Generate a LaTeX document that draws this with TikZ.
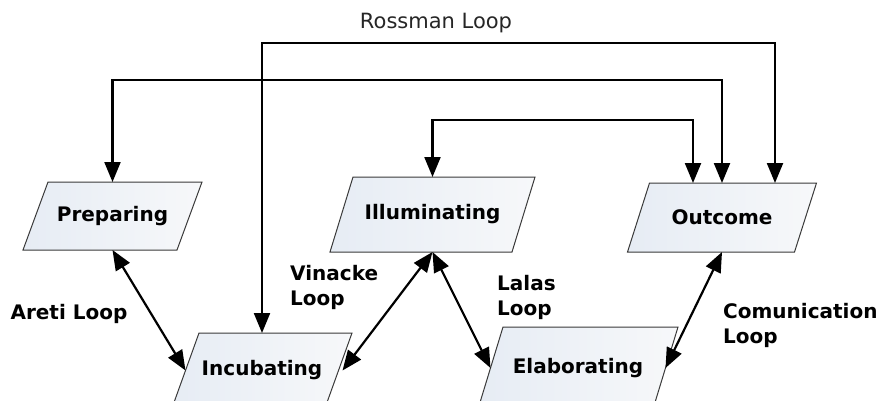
\documentclass[tikz,border=0pt]{standalone}
\usepackage{fontspec}
\setmainfont{DejaVu Sans}
\usetikzlibrary{arrows.meta}
\definecolor{boxline}{HTML}{3A3A3A}
\definecolor{boxfillA}{HTML}{E6ECF4}
\definecolor{boxfillB}{HTML}{F7F8FA}
\tikzset{
  stagebox/.style={draw=boxline, line width=1pt, left color=boxfillA, right color=boxfillB},
  stagetext/.style={font=\fontsize{20}{24}\selectfont\bfseries, inner sep=0pt, text=black},
  loopline/.style={line width=2.2pt, black},
  twoway/.style={loopline, {Triangle[length=20pt,width=16pt]}-{Triangle[length=20pt,width=16pt]}},
  looplabel/.style={font=\fontsize{20}{25}\selectfont\bfseries, align=left, inner sep=0pt, text=black},
  toplabel/.style={font=\fontsize{21}{25}\selectfont, inner sep=0pt, text={black!85}}
}
% name, cx, cy, top width, height, slant offset, text
\newcommand\stageshape[7]{%
  \pgfmathsetmacro\sbLeft{#2-#4/2}\pgfmathsetmacro\sbRight{#2+#4/2}%
  \pgfmathsetmacro\sbTop{#3-#5/2}\pgfmathsetmacro\sbBot{#3+#5/2}%
  \draw[stagebox] (\sbLeft+#6,\sbTop) -- (\sbRight+#6,\sbTop) -- (\sbRight-#6,\sbBot) -- (\sbLeft-#6,\sbBot) -- cycle;
  \node[stagetext] (#1) at (#2,#3) {#7};
  \coordinate (#1-n) at (#2,\sbTop);
  \coordinate (#1-s) at (#2,\sbBot);
  \coordinate (#1-w) at (\sbLeft,#3);
  \coordinate (#1-e) at (\sbRight,#3);
}
\begin{document}
\begin{tikzpicture}[x=1pt,y=-1pt]
\useasboundingbox (0,0) rectangle (883,401);
\clip (0,0) rectangle (883,401);
\stageshape{prep}{112.5}{216}{154}{68}{12.5}{Preparing}
\stageshape{ill}{432.5}{214.5}{182}{75}{11.5}{Illuminating}
\stageshape{out}{722}{217.5}{167}{69}{11}{Outcome}
\stageshape{inc}{262}{370.5}{153}{75}{13.5}{Incubating}
\stageshape{elab}{578}{368}{175}{82}{12.5}{Elaborating}

\coordinate (rossy) at (0,43);
\coordinate (prepy) at (0,80);
\coordinate (illy) at (0,120);
\coordinate (outA) at ([xshift=-29pt]out-n);
\coordinate (outC) at ([xshift=53pt]out-n);

\node[toplabel] (rosslabel) at (436,23) {Rossman Loop};
\draw[twoway] (inc-n) -- (inc-n |- rossy) -| (outC);
\draw[twoway] (prep-n) -- (prep-n |- prepy) -| (out-n);
\draw[twoway] (ill-n) -- (ill-n |- illy) -| (outA);

\draw[twoway] (prep-s) -- (inc-w);
\draw[twoway] ([xshift=4pt]inc-e) -- (ill-s);
\draw[twoway] (ill-s) -- (elab-w);
\draw[twoway] (out-s) -- (elab-e);

\node[looplabel] (areti) at (69,314) {Areti Loop};
\node[looplabel, anchor=west] (vinacke) at (290,287.5) {Vinacke\\Loop};
\node[looplabel, anchor=west] (lalas) at (497,297.5) {Lalas\\Loop};
\node[looplabel, anchor=west] (comm) at (723,325.5) {Comunication\\Loop};
\end{tikzpicture}
\end{document}
